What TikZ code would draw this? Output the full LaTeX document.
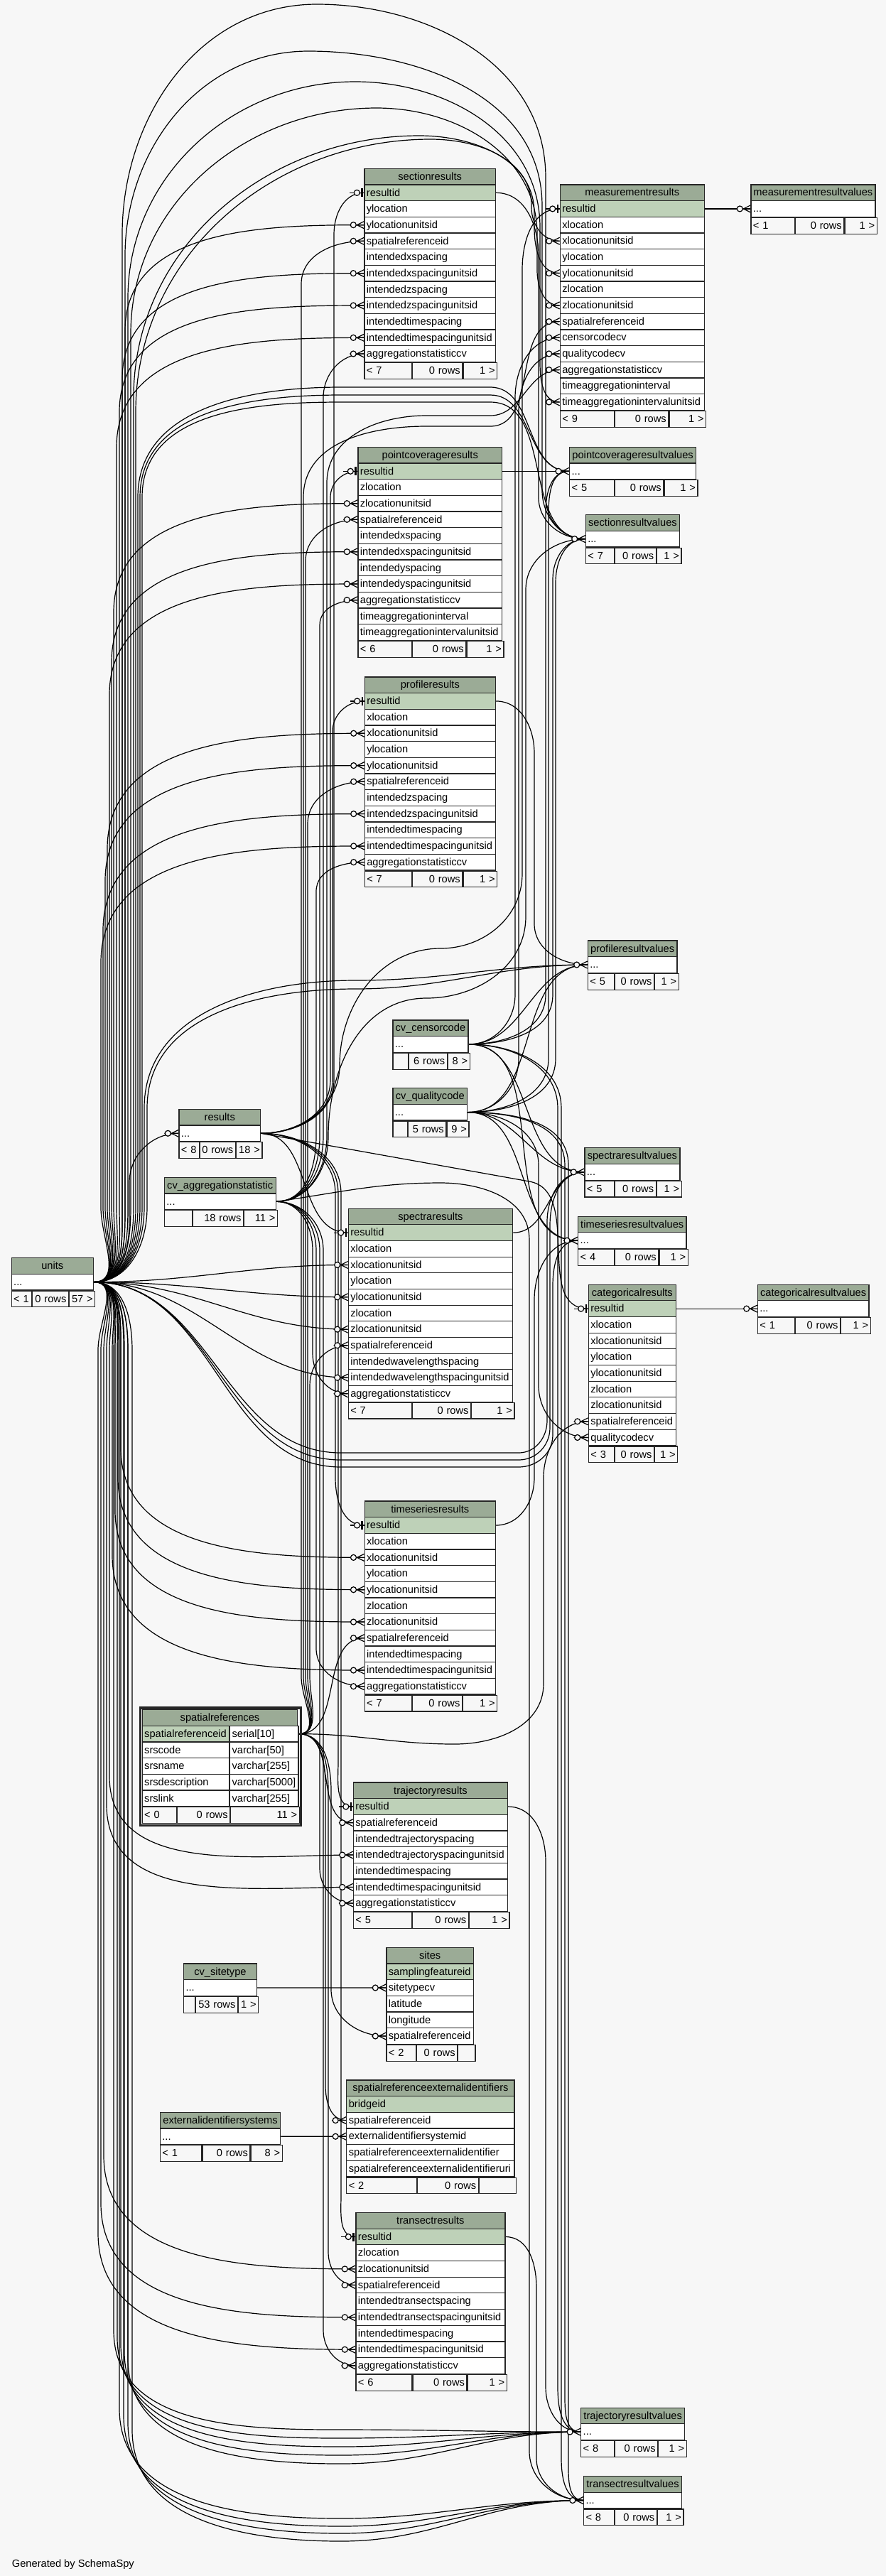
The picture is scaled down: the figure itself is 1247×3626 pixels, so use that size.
\documentclass[tikz,border=0pt]{standalone}
\usepackage{fontspec}
\setmainfont{Liberation Sans}

\definecolor{bgcol}{HTML}{F7F7F7}
\definecolor{hdrcol}{HTML}{9BAB96}
\definecolor{pkcol}{HTML}{BED1B8}

\pgfdeclarelayer{back}
\pgfdeclarelayer{links}
\pgfsetlayers{back,links,main}

\tikzset{
  cell/.style = {draw = black!85, line width = 0.6pt, anchor = north west, inner xsep = 1.5pt, inner ysep = 0pt,
                 minimum height = 11.335pt, text height = 6pt, text depth = 1.3pt, align = left},
  hdr/.style  = {cell, fill = hdrcol, align = center},
  foot/.style = {cell, fill = bgcol},
  rel/.style  = {line width = 0.6pt, black}
}

\newcommand{\elide}{...}
% table: name, x, y, width, title, pk rows, fields
\newcommand{\dbtable}[7]{%
  \pgfmathsetmacro\tw{#4*0.5-3}
  \node[hdr, minimum width = #4*0.5pt] (#1) at (#2,#3) {#5};
  \foreach \fld [count=\i] in {#7} {
    \ifnum\i>#6 \def\rf{white}\else\def\rf{pkcol}\fi
    \node[cell, fill = \rf, text width = \tw pt] (#1-\i) at (#2,{#3+\i*22.67}) {\fld};
  }}
% footer: name, last row, three widths, three texts
\newcommand{\dbfoot}[8]{%
  \pgfmathsetmacro\wa{#3*0.5-3}\pgfmathsetmacro\wb{#4*0.5-3}\pgfmathsetmacro\wc{#5*0.5-3}
  \node[foot, text width = \wa pt] (#1-fl) at (#2.south west) {#6};
  \node[foot, text width = \wb pt, align = right] (#1-fm) at (#1-fl.north east) {#7};
  \node[foot, text width = \wc pt, align = right] (#1-fr) at (#1-fm.north east) {#8};}
% connectors through a vertical channel
\newcommand{\linkup}[5]{\draw[rel] (#1) to[out=0,in=-90] (#2,#3) -- (#2,#4) to[out=90,in=180] (#5);}
\newcommand{\linkdn}[5]{\draw[rel] (#1) to[out=0,in=90] (#2,#3) -- (#2,#4) to[out=-90,in=180] (#5);}
\newcommand{\toparc}[8]{\draw[rel] (units-1.east) to[out=0,in=-90] (#1,1700) -- (#1,#2) to[out=90,in=180] (#3,#4)
  to[out=0,in=90] (#5,#6) -- (#5,#7) to[out=-90,in=180] (#8);}
% end marks
\newcommand{\markmany}[1]{%
  \draw[rel, shift={(#1)}] (-20,0) -- (0,0) (-10,0) -- (0,-5) (-10,0) -- (0,5);
  \filldraw[rel, fill = bgcol, shift={(#1)}] (-15,0) circle (2pt);}
\newcommand{\markone}[1]{%
  \draw[rel, shift={(#1)}] (-20,0) -- (0,0);
  \draw[line width = 1.2pt, shift={(#1)}] (-3,-6) -- (-3,6);
  \filldraw[rel, fill = bgcol, shift={(#1)}] (-10,0) circle (2pt);}

\begin{document}
\hyphenpenalty=10000 \exhyphenpenalty=10000
\begin{tikzpicture}[x = 0.5pt, y = -0.5pt, font = \fontsize{7.33}{8.8}\selectfont]
  \useasboundingbox (0,0) rectangle (1247,3626);
  \begin{pgfonlayer}{back}
    \fill[bgcol] (0,0) rectangle (1247,3626);
  \end{pgfonlayer}

  % tables
  \dbtable{sr}{512.3}{236.7}{184.4}{sectionresults}{1}{resultid,ylocation,ylocationunitsid,spatialreferenceid,intendedxspacing,intendedxspacingunitsid,intendedzspacing,intendedzspacingunitsid,intendedtimespacing,intendedtimespacingunitsid,aggregationstatisticcv}
  \dbfoot{sr}{sr-11}{66.7}{70}{47.7}{< 7}{0 rows}{1 >}
  \dbtable{mr}{787.7}{259.3}{203}{measurementresults}{1}{resultid,xlocation,xlocationunitsid,ylocation,ylocationunitsid,zlocation,zlocationunitsid,spatialreferenceid,censorcodecv,qualitycodecv,aggregationstatisticcv,timeaggregationinterval,timeaggregationintervalunitsid}
  \dbfoot{mr}{mr-13}{76.3}{75}{51.7}{< 9}{0 rows}{1 >}
  \dbtable{mrv}{1056.3}{259.3}{175}{measurementresultvalues}{0}{\elide}
  \dbfoot{mrv}{mrv-1}{61.4}{68.3}{45.3}{< 1}{0 rows}{1 >}
  \dbtable{pcrv}{801}{628.7}{178}{pointcoverageresultvalues}{0}{\elide}
  \dbfoot{pcrv}{pcrv-1}{63}{68}{47}{< 5}{0 rows}{1 >}
  \dbtable{srv}{823.7}{724}{132.3}{sectionresultvalues}{0}{\elide}
  \dbfoot{srv}{srv-1}{40.3}{57.3}{34.7}{< 7}{0 rows}{1 >}
  \dbtable{pcr}{503.3}{628.7}{202.7}{pointcoverageresults}{1}{resultid,zlocation,zlocationunitsid,spatialreferenceid,intendedxspacing,intendedxspacingunitsid,intendedyspacing,intendedyspacingunitsid,aggregationstatisticcv,timeaggregationinterval,timeaggregationintervalunitsid}
  \dbfoot{pcr}{pcr-11}{75.7}{75}{52}{< 6}{0 rows}{1 >}
  \dbtable{pr}{512.7}{952.3}{184}{profileresults}{1}{resultid,xlocation,xlocationunitsid,ylocation,ylocationunitsid,spatialreferenceid,intendedzspacing,intendedzspacingunitsid,intendedtimespacing,intendedtimespacingunitsid,aggregationstatisticcv}
  \dbfoot{pr}{pr-11}{66.3}{70}{47.7}{< 7}{0 rows}{1 >}
  \dbtable{prv}{826.7}{1323.4}{125.6}{profileresultvalues}{0}{\elide}
  \dbfoot{prv}{prv-1}{37.3}{54.7}{33.6}{< 5}{0 rows}{1 >}
  \dbtable{cen}{552.3}{1435.3}{106}{cv\_censorcode}{0}{\elide}
  \dbfoot{cen}{cen-1}{21.7}{53.3}{31}{}{6 rows}{8 >}
  \dbtable{qual}{552.3}{1531}{104.7}{cv\_qualitycode}{0}{\elide}
  \dbfoot{qual}{qual-1}{20.4}{53.3}{31}{}{5 rows}{9 >}
  \dbtable{res}{251.3}{1560.7}{114.7}{results}{0}{\elide}
  \dbfoot{res}{res-1}{28.2}{50}{36.5}{< 8}{0 rows}{18 >}
  \dbtable{agg}{230.8}{1656.7}{156.7}{cv\_aggregationstatistic}{0}{\elide}
  \dbfoot{agg}{agg-1}{39.2}{70.6}{46.9}{}{18 rows}{11 >}
  \dbtable{units}{15.6}{1770}{115.2}{units}{0}{\elide}
  \dbfoot{units}{units-1}{28.15}{50.85}{36.2}{< 1}{0 rows}{57 >}
  \dbtable{spr}{489.7}{1700.5}{231.3}{spectraresults}{1}{resultid,xlocation,xlocationunitsid,ylocation,ylocationunitsid,zlocation,zlocationunitsid,spatialreferenceid,intendedwavelengthspacing,intendedwavelengthspacingunitsid,aggregationstatisticcv}
  \dbfoot{spr}{spr-11}{89.3}{81.7}{60.3}{< 7}{0 rows}{1 >}
  \dbtable{sprv}{822.3}{1615.2}{134}{spectraresultvalues}{0}{\elide}
  \dbfoot{sprv}{sprv-1}{41.4}{57.6}{35}{< 5}{0 rows}{1 >}
  \dbtable{tsrv}{813}{1711.6}{152.3}{timeseriesresultvalues}{0}{\elide}
  \dbfoot{tsrv}{tsrv-1}{50.7}{61.3}{40.3}{< 4}{0 rows}{1 >}
  \dbtable{cr}{827.7}{1807.5}{123}{categoricalresults}{1}{resultid,xlocation,xlocationunitsid,ylocation,ylocationunitsid,zlocation,zlocationunitsid,spatialreferenceid,qualitycodecv}
  \dbfoot{cr}{cr-9}{36.3}{54.7}{32}{< 3}{0 rows}{1 >}
  \dbtable{crv}{1065.7}{1807.5}{156.6}{categoricalresultvalues}{0}{\elide}
  \dbfoot{crv}{crv-1}{52}{63}{41.6}{< 1}{0 rows}{1 >}
  \dbtable{tsr}{512.5}{2112.4}{184.3}{timeseriesresults}{1}{resultid,xlocation,xlocationunitsid,ylocation,ylocationunitsid,zlocation,zlocationunitsid,spatialreferenceid,intendedtimespacing,intendedtimespacingunitsid,aggregationstatisticcv}
  \dbfoot{tsr}{tsr-11}{66.5}{69.6}{48.2}{< 7}{0 rows}{1 >}
  \dbtable{tjr}{496.8}{2508.4}{217.1}{trajectoryresults}{1}{resultid,spatialreferenceid,intendedtrajectoryspacing,intendedtrajectoryspacingunitsid,intendedtimespacing,intendedtimespacingunitsid,aggregationstatisticcv}
  \dbfoot{tjr}{tjr-7}{82.2}{78.5}{56.4}{< 5}{0 rows}{1 >}
  \dbtable{stype}{257.9}{2763.4}{102.9}{cv\_sitetype}{0}{\elide}
  \dbfoot{stype}{stype-1}{16.1}{58.6}{28.2}{}{53 rows}{1 >}
  \dbtable{sites}{543.3}{2740.7}{122.6}{sites}{1}{samplingfeatureid,sitetypecv,latitude,longitude,spatialreferenceid}
  \dbfoot{sites}{sites-5}{41.3}{57.2}{24.1}{< 2}{0 rows}{}
  \dbtable{srei}{487.2}{2927.3}{236.2}{spatialreferenceexternalidentifiers}{1}{bridgeid,spatialreferenceid,externalidentifiersystemid,spatialreferenceexternalidentifier,spatialreferenceexternalidentifieruri}
  \dbfoot{srei}{srei-5}{98.5}{85.7}{52}{< 2}{0 rows}{}
  \dbtable{eis}{224.8}{2972.7}{169.4}{externalidentifiersystems}{0}{\elide}
  \dbfoot{eis}{eis-1}{58.5}{66.8}{44.1}{< 1}{0 rows}{8 >}
  \dbtable{tr}{500.3}{3113.9}{210}{transectresults}{1}{resultid,zlocation,zlocationunitsid,spatialreferenceid,intendedtransectspacing,intendedtransectspacingunitsid,intendedtimespacing,intendedtimespacingunitsid,aggregationstatisticcv}
  \dbfoot{tr}{tr-9}{78.8}{76.1}{55.1}{< 6}{0 rows}{1 >}
  \dbtable{tjrv}{817.1}{3388.5}{146}{trajectoryresultvalues}{0}{\elide}
  \dbfoot{tjrv}{tjrv-1}{46.5}{60.2}{39.3}{< 8}{0 rows}{1 >}
  \dbtable{trv}{820.9}{3484.9}{138.1}{transectresultvalues}{0}{\elide}
  \dbfoot{trv}{trv-1}{42.7}{58.9}{36.5}{< 8}{0 rows}{1 >}

  % spatialreferences, two columns
  \node[hdr, minimum width = 218.6*0.5pt] (sref) at (199.6,2406) {spatialreferences};
  \foreach \a/\b [count=\i] in {spatialreferenceid/serial[10],srscode/varchar[50],srsname/varchar[255],srsdescription/varchar[5000],srslink/varchar[255]} {
    \ifnum\i>1 \def\rf{white}\else\def\rf{pkcol}\fi
    \node[cell, fill = \rf, text width = 58.1pt] (sref-\i) at (199.6,{2406+\i*22.67}) {\a};
    \node[cell, fill = white, text width = 45.2pt] (sref-\i-t) at (sref-\i.north east) {\b};
  }
  \dbfoot{sref}{sref-5}{48.3}{73.9}{96.4}{< 0}{0 rows}{11 >}
  \draw[line width = 1.6pt, black!85] ([shift={(-2,-2)}]sref.north west) rectangle ([shift={(2,2)}]sref-fr.south east);

  \node[anchor = base west, inner sep = 0pt] (credit) at (16.5,3613) {Generated by SchemaSpy};

  \begin{pgfonlayer}{links}
    % units
    \foreach \t/\c/\y in {sr-3/176/466, sr-6/172/534, sr-8/168/580, sr-10/164/630, pcr-3/160/862, pcr-6/157/932,
                          pcr-8/154/978, pr-3/151/1195, pr-5/148/1240, pr-8/145/1310, pr-10/142/1355}
      {\linkup{units-1.east}{\c}{1700}{\y}{\t.west}}
    \linkup{units-1.east}{182}{1720}{1665}{res-1.west}
    \toparc{172}{330}{446}{6}{768}{250}{700}{srv-1.west}
    \toparc{176}{360}{434}{72}{763}{290}{690}{srv-1.west}
    \toparc{180}{420}{500}{115}{760}{320}{510}{mr-13.west}
    \toparc{184}{470}{530}{152}{756}{330}{380}{mr-7.west}
    \toparc{188}{560}{590}{191}{752}{300}{320}{mr-5.west}
    \toparc{191}{580}{606}{196}{748}{290}{292}{mr-3.west}
    \foreach \c/\y/\t in {194/545/pcrv, 197/556/pcrv, 200/566/srv}
      \draw[rel] (units-1.east) to[out=0,in=-90] (\c,1700) -- (\c,700) to[out=90,in=180] (480,\y) -- (690,\y) to[out=0,in=180] (\t-1.west);
    \foreach \c/\y in {203/1380, 207/1392}
      \draw[rel] (units-1.east) to[out=0,in=-90] (\c,1700) -- (\c,1560) to[out=90,in=180] (500,\y) to[out=0,in=180] (prv-1.west);
    \foreach \y/\c/\e/\t in {2045/770/1720/sprv, 2055/774/1725/sprv, 2065/778/1810/tsrv}
      \draw[rel] (units-1.east) to[out=0,in=180] (480,\y) -- (730,\y) to[out=0,in=-90] (\c,{\y-45}) -- (\c,\e) to[out=90,in=180] (\t-1.west);
    \foreach \t in {spr-3, spr-5, spr-7, spr-10}
      \draw[rel] (units-1.east) to[out=0,in=180] (\t.west);
    \foreach \t/\c/\y in {tsr-3/170/2038, tsr-5/166/2080, tsr-7/162/2126, tsr-10/158/2189, tjr-4/154/2500,
                          tjr-6/150/2540, tr-3/146/3034, tr-6/142/3101, tr-8/138/3143}
      {\linkdn{units-1.east}{\c}{1900}{\y}{\t.west}}
    \foreach \c/\v/\b in {160/3280/3420, 165/3290/3432, 170/3300/3444, 175/3310/3456, 180/3320/3468}
      \draw[rel] (units-1.east) to[out=0,in=90] (\c,1900) -- (\c,\v) to[out=-90,in=180] (480,\b) to[out=0,in=180] (tjrv-1.west);
    \foreach \c/\v/\b in {168/3390/3545, 174/3400/3556, 180/3410/3566, 186/3420/3577}
      \draw[rel] (units-1.east) to[out=0,in=90] (\c,1900) -- (\c,\v) to[out=-90,in=180] (480,\b) to[out=0,in=180] (trv-1.west);

    % results
    \linkup{res-1.east}{470}{1520}{330}{sr-1.west}
    \draw[rel] (res-1.east) to[out=0,in=-90] (478,1500) to[out=90,in=180] (620,1335) to[out=0,in=-90] (735,1230) -- (735,380) to[out=90,in=180] (mr-1.west);
    \linkup{res-1.east}{465}{1520}{700}{pcr-1.west}
    \linkup{res-1.east}{468}{1520}{1030}{pr-1.west}
    \draw[rel] (res-1.east) to[out=0,in=180] (spr-1.west);
    \draw[rel] (res-1.east) -- (745,1663) to[out=-10,in=180] (cr-1.west);
    \linkdn{res-1.east}{472}{1680}{2080}{tsr-1.west}
    \linkdn{res-1.east}{476}{1680}{2480}{tjr-1.west}
    \linkdn{res-1.east}{480}{1680}{3090}{tr-1.west}

    % cv_aggregationstatistic
    \linkup{agg-1.east}{455}{1600}{560}{sr-11.west}
    \draw[rel] (agg-1.east) to[out=0,in=-90] (460,1600) -- (460,680) to[out=90,in=180] (600,585) -- (690,585) to[out=0,in=180] (mr-11.west);
    \linkup{agg-1.east}{450}{1600}{880}{pcr-9.west}
    \linkup{agg-1.east}{445}{1600}{1255}{pr-11.west}
    \linkdn{agg-1.east}{440}{1760}{1905}{spr-11.west}
    \linkdn{agg-1.east}{445}{1760}{2320}{tsr-11.west}
    \linkdn{agg-1.east}{450}{1760}{2630}{tjr-7.west}
    \linkdn{agg-1.east}{455}{1760}{3280}{tr-9.west}
    \draw[rel] (agg-1.east) to[out=0,in=-90] (462,1600) to[out=90,in=180] (600,1405) to[out=0,in=-90] (740,1290) -- (740,830) to[out=90,in=180] (srv-1.west);
    \draw[rel] (agg-1.east) to[out=8,in=180] (620,1665) to[out=0,in=90] (745,1745) -- (745,3450) to[out=-90,in=180] (trv-1.west);

    % spatialreferences
    \linkup{sref-1-t.east}{424}{2360}{400}{sr-4.west}
    \draw[rel] (sref-1-t.east) to[out=0,in=-90] (427,2360) -- (427,700) to[out=90,in=180] (600,600) -- (690,600) to[out=0,in=180] (mr-8.west);
    \linkup{sref-1-t.east}{430}{2360}{790}{pcr-4.west}
    \linkup{sref-1-t.east}{433}{2360}{1160}{pr-6.west}
    \linkup{sref-1-t.east}{436}{2360}{1950}{spr-8.west}
    \draw[rel] (sref-1-t.east) to[out=0,in=180] (640,2455) to[out=0,in=-90] (765,2370) -- (765,2080) to[out=90,in=180] (cr-8.west);
    \draw[rel] (sref-1-t.east) to[out=0,in=180] (tsr-8.west);
    \draw[rel] (sref-1-t.east) to[out=0,in=180] (tjr-2.west);
    \linkdn{sref-1-t.east}{466}{2520}{2800}{sites-5.west}
    \linkdn{sref-1-t.east}{458}{2520}{2935}{srei-2.west}
    \linkdn{sref-1-t.east}{462}{2520}{3170}{tr-4.west}

    % cv_censorcode
    \linkup{cen-1.east}{725}{1400}{560}{mr-9.west}
    \linkup{cen-1.east}{768}{1400}{720}{pcrv-1.west}
    \linkup{cen-1.east}{778}{1400}{815}{srv-1.west}
    \foreach \t in {prv, sprv, tsrv}
      \draw[rel] (cen-1.east) to[out=0,in=180] (\t-1.west);
    \linkdn{cen-1.east}{785}{1560}{3360}{tjrv-1.west}
    \linkdn{cen-1.east}{790}{1560}{3460}{trv-1.west}

    % cv_qualitycode
    \linkup{qual-1.east}{730}{1490}{580}{mr-10.west}
    \linkdn{qual-1.east}{758}{1640}{1950}{cr-9.west}
    \linkup{qual-1.east}{772}{1490}{725}{pcrv-1.west}
    \linkup{qual-1.east}{782}{1490}{820}{srv-1.west}
    \foreach \t in {prv, sprv, tsrv}
      \draw[rel] (qual-1.east) to[out=0,in=180] (\t-1.west);
    \linkdn{qual-1.east}{795}{1640}{3370}{tjrv-1.west}
    \linkdn{qual-1.east}{800}{1640}{3470}{trv-1.west}

    % result tables to their values
    \draw[rel] (mr-1.east) -- (mrv-1.west);
    \draw[rel] (pcr-1.east) -- (pcrv-1.west);
    \draw[rel] (cr-1.east) -- (crv-1.west);
    \linkdn{sr-1.east}{758}{360}{700}{srv-1.west}
    \linkdn{pr-1.east}{752}{1060}{1300}{prv-1.west}
    \draw[rel] (spr-1.east) to[out=0,in=180] (sprv-1.west);
    \linkup{tsr-1.east}{752}{2080}{1830}{tsrv-1.west}
    \linkdn{tjr-1.east}{768}{2620}{3360}{tjrv-1.west}
    \linkdn{tr-1.east}{755}{3220}{3460}{trv-1.west}
    \draw[rel] (stype-1.east) -- (sites-2.west);
    \draw[rel] (eis-1.east) -- (srei-3.west);

    % end marks
    \foreach \t in {sr, mr, pcr, pr, spr, cr, tsr, tjr, tr}
      {\markone{\t-1.west}}
    \foreach \t in {sr-3, sr-4, sr-6, sr-8, sr-10, sr-11, mr-3, mr-5, mr-7, mr-8, mr-9, mr-10, mr-11, mr-13,
                    pcr-3, pcr-4, pcr-6, pcr-8, pcr-9, pr-3, pr-5, pr-6, pr-8, pr-10, pr-11,
                    spr-3, spr-5, spr-7, spr-8, spr-10, spr-11, cr-8, cr-9,
                    tsr-3, tsr-5, tsr-7, tsr-8, tsr-10, tsr-11, tjr-2, tjr-4, tjr-6, tjr-7,
                    sites-2, sites-5, srei-2, srei-3, tr-3, tr-4, tr-6, tr-8, tr-9,
                    mrv-1, pcrv-1, srv-1, prv-1, sprv-1, tsrv-1, crv-1, tjrv-1, trv-1, res-1}
      {\markmany{\t.west}}
  \end{pgfonlayer}
\end{tikzpicture}
\end{document}
